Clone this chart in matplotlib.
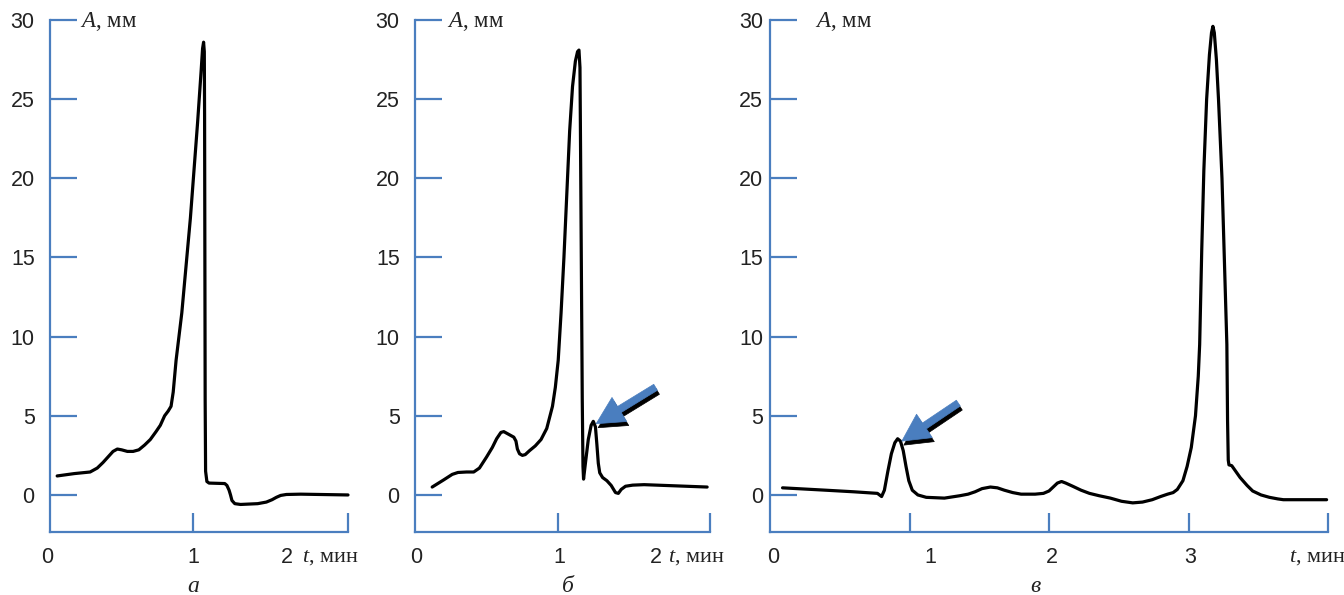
import matplotlib
matplotlib.use("Agg")
import matplotlib.pyplot as plt
from matplotlib import transforms

plt.rcParams['font.family'] = ['Liberation Sans', 'DejaVu Sans']
plt.rcParams['mathtext.fontset'] = 'custom'
plt.rcParams['mathtext.it'] = 'Liberation Serif:italic'
plt.rcParams['mathtext.rm'] = 'Liberation Serif'

BLUE = '#4a7ebf'

# --- data (t in min, A in mm) ---
t_a = [0.05, 0.17, 0.28, 0.33, 0.37, 0.40, 0.44, 0.47, 0.50, 0.54, 0.58,
       0.62, 0.66, 0.70, 0.74, 0.77, 0.80, 0.825, 0.845, 0.86, 0.88, 0.92,
       0.98, 1.03, 1.055, 1.065, 1.072, 1.077, 1.079, 1.081, 1.083, 1.086,
       1.095, 1.11, 1.22, 1.235, 1.25, 1.26, 1.27, 1.29, 1.33, 1.45, 1.51,
       1.55, 1.58, 1.61, 1.65, 1.75, 2.08]
A_a = [1.2, 1.35, 1.45, 1.7, 2.05, 2.35, 2.75, 2.9, 2.85, 2.75, 2.75,
       2.85, 3.15, 3.5, 4.0, 4.4, 5.0, 5.3, 5.6, 6.5, 8.5, 11.5,
       17.5, 23.5, 26.8, 28.2, 28.6, 28.0, 24.0, 15.0, 6.0, 1.5,
       0.85, 0.75, 0.72, 0.6, 0.3, 0.0, -0.35, -0.55, -0.6, -0.55, -0.45,
       -0.3, -0.15, -0.03, 0.03, 0.05, 0.0]

t_b = [0.12, 0.20, 0.26, 0.30, 0.36, 0.41, 0.45, 0.50, 0.54, 0.57, 0.60,
       0.62, 0.64, 0.67, 0.69, 0.705, 0.715, 0.73, 0.75, 0.77, 0.80, 0.84,
       0.88, 0.92, 0.96, 0.98, 1.00, 1.02, 1.04, 1.06, 1.08, 1.10, 1.12,
       1.135, 1.145, 1.152, 1.156, 1.162, 1.168, 1.173, 1.177, 1.19, 1.21,
       1.23, 1.245, 1.26, 1.27, 1.28, 1.29, 1.31, 1.34, 1.37, 1.40, 1.42,
       1.44, 1.47, 1.52, 1.60, 2.04]
A_b = [0.5, 0.95, 1.3, 1.42, 1.45, 1.45, 1.7, 2.4, 3.0, 3.55, 3.95,
       4.0, 3.9, 3.75, 3.65, 3.4, 2.9, 2.6, 2.5, 2.55, 2.8, 3.1,
       3.5, 4.2, 5.6, 6.8, 8.5, 11.5, 15.0, 19.0, 23.0, 25.8, 27.4,
       28.0, 28.1, 27.0, 22.0, 14.0, 6.0, 1.8, 1.0, 2.0, 3.5,
       4.4, 4.65, 4.3, 3.2, 2.0, 1.4, 1.1, 0.9, 0.6, 0.15, 0.1,
       0.35, 0.55, 0.62, 0.65, 0.5]

t_c = [0.09, 0.40, 0.60, 0.77, 0.80, 0.82, 0.845, 0.87, 0.895, 0.915, 0.935,
       0.955, 0.975, 0.995, 1.02, 1.06, 1.12, 1.25, 1.36, 1.42, 1.47, 1.52,
       1.58, 1.63, 1.68, 1.74, 1.80, 1.90, 1.96, 2.00, 2.03, 2.06, 2.09,
       2.12, 2.17, 2.23, 2.29, 2.36, 2.44, 2.52, 2.60, 2.67, 2.74, 2.80,
       2.85, 2.89, 2.92, 2.96, 2.99, 3.02, 3.05, 3.07, 3.08, 3.095, 3.11,
       3.13, 3.15, 3.165, 3.175, 3.185, 3.20, 3.215, 3.24, 3.26, 3.275,
       3.28, 3.285, 3.29, 3.31, 3.33, 3.37, 3.42, 3.46, 3.52, 3.58, 3.64,
       3.68, 3.99]
A_c = [0.45, 0.3, 0.2, 0.1, -0.1, 0.3, 1.5, 2.6, 3.3, 3.55, 3.4,
       2.8, 1.8, 0.9, 0.3, 0.0, -0.15, -0.2, -0.05, 0.05, 0.2, 0.4,
       0.5, 0.45, 0.3, 0.15, 0.05, 0.05, 0.1, 0.25, 0.5, 0.75, 0.85,
       0.75, 0.55, 0.3, 0.1, -0.05, -0.2, -0.4, -0.5, -0.45, -0.3, -0.1,
       0.05, 0.15, 0.35, 0.9, 1.8, 3.0, 5.0, 7.5, 9.5, 15.5, 20.5,
       25.0, 27.8, 29.2, 29.6, 29.2, 27.5, 25.0, 20.0, 14.0, 9.5,
       4.7, 2.2, 1.9, 1.85, 1.6, 1.1, 0.6, 0.25, 0.0, -0.15, -0.25,
       -0.3, -0.3]

y_ticks = [0, 5, 10, 15, 20, 25, 30]

panels = [
    dict(left=50, right=348, xmax=2.08, ticks=[1, 2.08], t=t_a, A=A_a, pad=11,
         xlab=[(-0.02, '0'), (1.0, '1'), (1.65, '2')], tlab=1.76, letter=('а', 1.0),
         ylab=0.21, arrow=None),
    dict(left=415, right=710, xmax=2.06, ticks=[1, 2.06], t=t_b, A=A_b, pad=11,
         xlab=[(0.01, '0'), (1.01, '1'), (1.68, '2')], tlab=1.77, letter=('б', 1.07),
         ylab=0.22, arrow=((1.265, 4.5), (1.68, 6.8))),
    dict(left=770, right=1328, xmax=4.0, ticks=[1, 2, 3, 4], t=t_c, A=A_c, pad=5,
         xlab=[(0.02, '0'), (1.15, '1'), (2.02, '2'), (3.01, '3')], tlab=3.72,
         letter=('в', 1.9), ylab=0.32, arrow=((0.945, 3.4), (1.35, 5.8))),
]

W, H = 1344, 595
fig = plt.figure(figsize=(W / 100, H / 100), dpi=100)

for p in panels:
    ax = fig.add_axes([p['left'] / W, (H - 532) / H, (p['right'] - p['left']) / W, 512 / H])
    ax.set_xlim(0, p['xmax'])
    ax.set_ylim(-2.34, 30)
    ax.patch.set_visible(False)
    for s in ['top', 'right']:
        ax.spines[s].set_visible(False)
    for s in ['left', 'bottom']:
        ax.spines[s].set_color(BLUE)
        ax.spines[s].set_linewidth(1.6)
    ax.set_yticks(y_ticks)
    ax.tick_params(axis='y', direction='in', length=19.5, width=1.6, color=BLUE,
                   pad=p['pad'], labelsize=15.5, labelcolor='#222222')
    ax.set_xticks(p['ticks'])
    ax.set_xticklabels([])
    ax.tick_params(axis='x', direction='in', length=14, width=1.6, color=BLUE)

    ax.plot(p['t'], p['A'], color='black', lw=2.3, solid_joinstyle='round',
            solid_capstyle='round', clip_on=False)

    for x, s in p['xlab']:
        ax.text(x, -3.95, s, ha='center', va='center', fontsize=15.5,
                color='#222222', clip_on=False)
    ax.text(p['tlab'], -3.95, r'$t$, мин', ha='left', va='center', fontsize=16,
            family='Liberation Serif', color='#222222', clip_on=False)
    ax.text(p['letter'][1], -5.8, p['letter'][0], ha='center', va='center',
            fontsize=17, family='Liberation Serif', style='italic',
            color='#222222', clip_on=False)
    ax.text(p['ylab'], 29.9, r'$A$, мм', ha='left', va='center', fontsize=16.5,
            family='Liberation Serif', color='#222222', clip_on=False)

    if p['arrow'] is not None:
        tip, tail = p['arrow']
        shadow = transforms.offset_copy(ax.transData, fig=fig, x=2, y=-4, units='dots')
        style = 'simple,head_length=1.4,head_width=1.45,tail_width=0.36'
        ax.annotate('', xy=tip, xycoords=shadow, xytext=tail, textcoords=shadow,
                    arrowprops=dict(arrowstyle=style, fc='black', ec='black', lw=0.5,
                                    mutation_scale=14, shrinkA=0, shrinkB=0))
        ax.annotate('', xy=tip, xytext=tail,
                    arrowprops=dict(arrowstyle=style, fc=BLUE, ec=BLUE, lw=0.5,
                                    mutation_scale=14, shrinkA=0, shrinkB=0))

fig.savefig('out.png', dpi=100)
